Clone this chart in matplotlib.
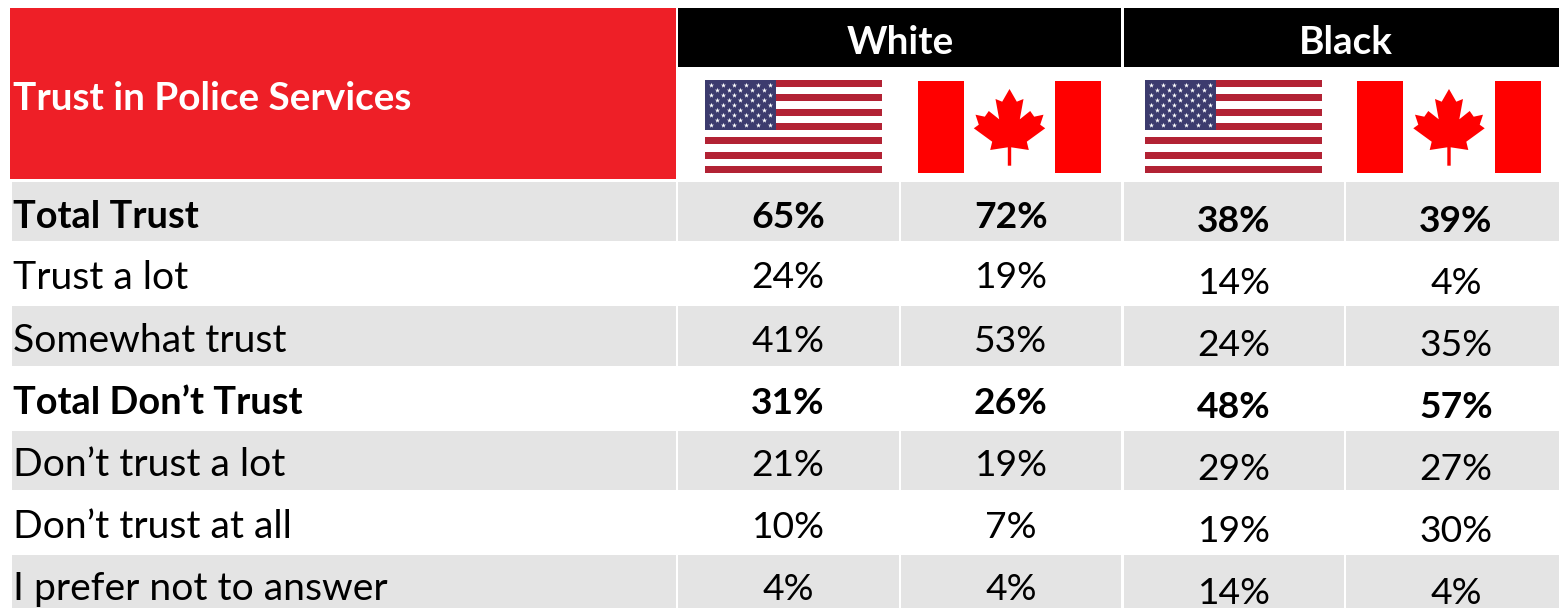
import numpy as np
import matplotlib
matplotlib.use("Agg")
import matplotlib.pyplot as plt
from matplotlib.patches import Rectangle, Polygon

plt.rcParams["font.family"] = ["Lato", "DejaVu Sans"]

title = "Trust in Police Services"
groups = ["White", "Black"]
row_labels = ["Total Trust", "Trust a lot", "Somewhat trust", "Total Don\u2019t Trust",
              "Don\u2019t trust a lot", "Don\u2019t trust at all", "I prefer not to answer"]
bold_rows = [True, False, False, True, False, False, False]
white_us = [65, 24, 41, 31, 21, 10, 4]
white_ca = [72, 19, 53, 26, 19, 7, 4]
black_us = [38, 14, 24, 48, 29, 19, 14]
black_ca = [39, 4, 35, 57, 27, 30, 4]

W, H = 1559, 608
RED = "#ee1f27"
GREY = "#e4e4e4"

# row bands in image pixels, top / bottom
row_top = [182, 243, 306, 368, 431, 492, 555]
row_bot = [241, 306, 366, 431, 490, 555, 608]
col_left = [12, 678, 901, 1124, 1346]
col_right = [676, 899, 1121, 1344, 1559]
col_mid = [788, 1011, 1234, 1456]
# white columns sit a bit higher than the black ones in the source
text_y_white = [217, 278, 341, 403, 465, 527, 589]
text_y_black = [221, 284, 345, 407, 469, 532, 594]

# half of a maple leaf, offsets from the top of the leaf in px
LEAF_HALF = [(0, 0), (7.3, 12.7), (14, 10), (10.3, 30.3), (20.7, 22), (24.7, 27.7),
             (34, 25.7), (30.7, 35.7), (35.7, 39.3), (17.3, 52.7), (19.3, 61),
             (1.7, 58.3), (1.7, 76.7)]


def draw_us_flag(ax, x0, y0, w=177, h=93):
    stripe = h / 13
    ax.add_patch(Rectangle((x0, y0), w, h, fc="white", ec="none"))
    for i in range(0, 13, 2):
        ax.add_patch(Rectangle((x0, y0 + i * stripe), w, stripe, fc="#b22234", ec="none"))
    cw, ch = w * 0.4, stripe * 7
    ax.add_patch(Rectangle((x0, y0), cw, ch, fc="#3c3b6e", ec="none"))
    xs, ys = [], []
    for r in range(9):
        n = 6 if r % 2 == 0 else 5
        for c in range(n):
            xs.append(x0 + cw * (c + (0.5 if r % 2 == 0 else 1.0)) / 6)
            ys.append(y0 + ch * (r + 1) / 10)
    ax.scatter(xs, ys, marker="*", s=15, c="white", linewidths=0)


def draw_ca_flag(ax, x0, y0, w=183, h=92):
    band = w / 4
    ax.add_patch(Rectangle((x0, y0), band, h, fc="#ff0000", ec="none"))
    ax.add_patch(Rectangle((x0 + w - band, y0), band, h, fc="#ff0000", ec="none"))
    cx = x0 + w / 2
    top = y0 + 8
    right = [(cx + dx, top + dy) for dx, dy in LEAF_HALF]
    left = [(cx - dx, top + dy) for dx, dy in LEAF_HALF[::-1]]
    ax.add_patch(Polygon(right + left, closed=True, fc="#ff0000", ec="none"))


fig = plt.figure(figsize=(W / 100, H / 100), dpi=100)
ax = fig.add_axes([0, 0, 1, 1])
ax.set_xlim(0, W)
ax.set_ylim(H, 0)
ax.axis("off")

# header
ax.add_patch(Rectangle((10, 8), 666, 171, fc=RED, ec="none"))
ax.text(13, 98, title, color="white", fontsize=27.9, fontweight="bold", va="center", ha="left")
ax.add_patch(Rectangle((678, 8), 443, 59, fc="black", ec="none"))
ax.add_patch(Rectangle((1124, 8), 435, 59, fc="black", ec="none"))
ax.text(900, 42, groups[0], color="white", fontsize=27.8, fontweight="bold", va="center", ha="center")
ax.text(1346, 42, groups[1], color="white", fontsize=27.8, fontweight="bold", va="center", ha="center")

draw_us_flag(ax, 705, 80)
draw_ca_flag(ax, 918, 81)
draw_us_flag(ax, 1145, 80)
draw_ca_flag(ax, 1357, 81, w=184)

# table body
columns = [white_us, white_ca, black_us, black_ca]
for i, label in enumerate(row_labels):
    if i % 2 == 0:
        for left, right in zip(col_left, col_right):
            ax.add_patch(Rectangle((left, row_top[i]), right - left, row_bot[i] - row_top[i],
                                   fc=GREY, ec="none"))
    weight = "bold" if bold_rows[i] else "normal"
    label_size = 27.4 if bold_rows[i] else 28.2
    ax.text(13, text_y_white[i], label, fontsize=label_size, fontweight=weight, va="center",
            ha="left", color="black")
    for j, values in enumerate(columns):
        y = text_y_white[i] if j < 2 else text_y_black[i]
        ax.text(col_mid[j], y, f"{values[i]}%", fontsize=26.8, fontweight=weight, va="center",
                ha="center", color="black")

fig.savefig("out.png", dpi=100)
plt.close()
